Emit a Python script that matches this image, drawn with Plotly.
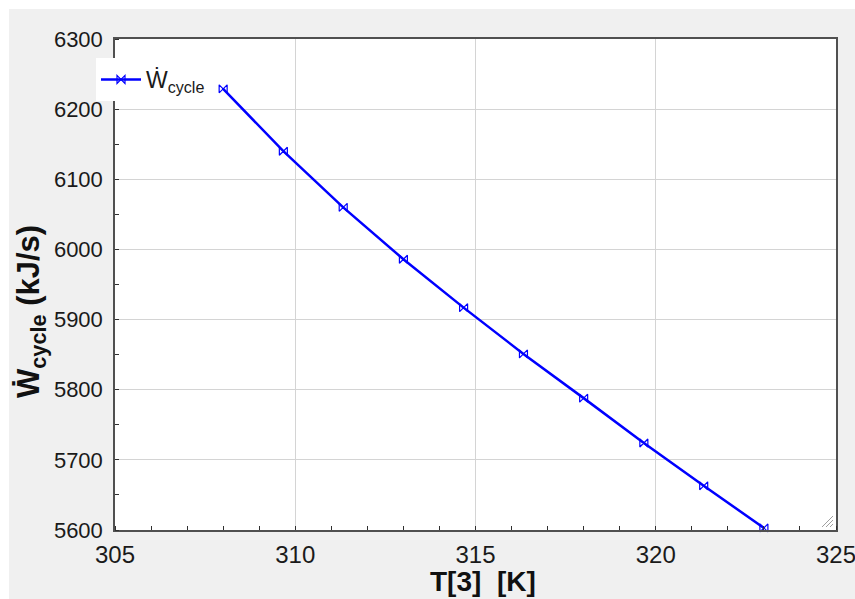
import plotly.graph_objects as go

# Data
t3 = [308.0, 309.67, 311.33, 313.0, 314.67, 316.33, 318.0, 319.67, 321.33, 323.0]
w_cycle = [6229, 6140, 6060, 5986, 5917, 5851, 5788, 5724, 5663, 5603]

x_ticks = [305, 310, 315, 320, 325]
y_ticks = [5600, 5700, 5800, 5900, 6000, 6100, 6200, 6300]

W, H = 855, 599
ml, mr, mt, mb = 115, 19, 39, 69
pw, ph = W - ml - mr, H - mt - mb

def px(xp):
    return (xp - ml) / pw

def py(yp):
    return (H - mb - yp) / ph

FONT = "Liberation Sans, Arial, sans-serif"

fig = go.Figure()
fig.add_trace(go.Scatter(
    x=t3, y=w_cycle, mode="lines+markers",
    name="Ẇ<sub>cycle</sub>",
    line=dict(color="#0000ff", width=2.5),
    marker=dict(symbol="bowtie-open", size=8, color="#0000ff", line=dict(width=1.2)),
    cliponaxis=False,
))

axis_common = dict(
    showline=True, linecolor="#505050", linewidth=1.5, mirror=True,
    showgrid=True, gridcolor="#d4d4d4", gridwidth=1,
    ticks="", zeroline=False, ticklabeloverflow="allow",
)

fig.update_layout(
    xaxis=dict(
        range=[305, 325], tickvals=x_ticks, ticktext=[str(v) for v in x_ticks],
        tickfont=dict(family=FONT, size=24, color="#1a1a1a"),
        ticklabelstandoff=2,
        minor=dict(ticks="inside", dtick=1, ticklen=4, tickcolor="#303030", showgrid=False),
        **axis_common,
    ),
    yaxis=dict(
        range=[5600, 6300], tickvals=y_ticks, ticktext=[str(v) for v in y_ticks],
        tickfont=dict(family=FONT, size=22, color="#1a1a1a"),
        ticklabelstandoff=6,
        minor=dict(ticks="inside", dtick=50, ticklen=4, tickcolor="#303030", showgrid=False),
        **axis_common,
    ),
    xaxis2=dict(
        overlaying="x", side="top", range=[305, 325], showticklabels=False,
        showgrid=False, showline=False, zeroline=False, ticks="",
        tickvals=x_ticks,
        minor=dict(ticks="inside", dtick=1, ticklen=4, tickcolor="#303030", showgrid=False),
    ),
    yaxis2=dict(
        overlaying="y", side="right", range=[5600, 6300], showticklabels=False,
        showgrid=False, showline=False, zeroline=False, ticks="",
        tickvals=y_ticks,
        minor=dict(ticks="inside", dtick=50, ticklen=4, tickcolor="#303030", showgrid=False),
    ),
)

fig.update_layout(
    width=W, height=H,
    margin=dict(l=ml, r=mr, t=mt, b=mb, autoexpand=False),
    paper_bgcolor="#f0f0f0", plot_bgcolor="#ffffff",
    showlegend=True,
    legend=dict(
        x=px(96), y=py(58), xanchor="left", yanchor="top",
        bgcolor="#ffffff", borderwidth=0,
        font=dict(family=FONT, size=23, color="#1a1a1a"),
        itemwidth=40, tracegroupgap=0,
    ),
    annotations=[
        dict(text="<b>T[3]\u00a0\u00a0[K]</b>", xref="paper", yref="paper",
             x=px(483), y=py(581), xanchor="center", yanchor="middle",
             showarrow=False, font=dict(family=FONT, size=28, color="#111111")),
        dict(text="<b>Ẇ<sub>cycle</sub> (kJ/s)</b>", xref="paper", yref="paper",
             x=px(31), y=py(312), xanchor="center", yanchor="middle", textangle=-90,
             showarrow=False, font=dict(family=FONT, size=31, color="#111111")),
    ],
    shapes=[
        dict(type="rect", xref="paper", yref="paper", x0=px(0), x1=px(W), y0=py(9), y1=py(0),
             fillcolor="#ffffff", line=dict(width=0), layer="below"),
        dict(type="rect", xref="paper", yref="paper", x0=px(0), x1=px(9), y0=py(H), y1=py(0),
             fillcolor="#ffffff", line=dict(width=0), layer="below"),
        dict(type="line", xref="paper", yref="paper", x0=px(822), y0=py(527), x1=px(833), y1=py(516),
             line=dict(color="#a0a0a0", width=1)),
        dict(type="line", xref="paper", yref="paper", x0=px(826), y0=py(527), x1=px(833), y1=py(520),
             line=dict(color="#a0a0a0", width=1)),
        dict(type="line", xref="paper", yref="paper", x0=px(830), y0=py(527), x1=px(833), y1=py(524),
             line=dict(color="#a0a0a0", width=1)),
    ],
)

fig.write_html("out.html", config={"displayModeBar": False},
               post_script="document.body.style.margin='0';document.body.style.overflow='hidden';")
